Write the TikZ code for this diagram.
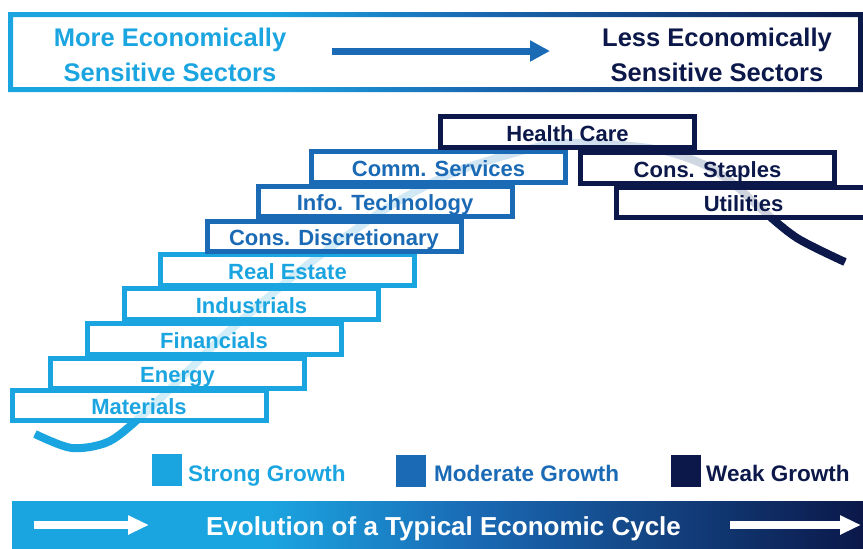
\documentclass[tikz,border=0pt]{standalone}
\usepackage{fontspec}
\setmainfont{Liberation Sans}
\usetikzlibrary{arrows.meta, positioning}

\definecolor{strong}{RGB}{27,165,224}
\definecolor{moderate}{RGB}{26,106,181}
\definecolor{weak}{RGB}{11,24,73}

\pgfdeclarehorizontalshading{cycleshade}{100bp}{color(0bp)=(strong); color(40bp)=(strong); color(52bp)=(moderate); color(75bp)=(weak); color(100bp)=(weak)}

\tikzset{
  sector/.style={draw, line width=5pt, fill=white, fill opacity=0.8, text opacity=1,
    minimum width=254pt, minimum height=30.5pt, inner sep=0pt,
    text height=18pt, text depth=0pt, font=\fontsize{22}{26}\selectfont\bfseries},
  strongbox/.style={sector, draw=strong, text=strong},
  modbox/.style={sector, draw=moderate, text=moderate},
  weakbox/.style={sector, draw=weak, text=weak},
  keysq/.style={minimum width=30pt, minimum height=32pt, inner sep=0pt},
  keytext/.style={anchor=base west, inner sep=0pt, font=\fontsize{22.5}{26}\selectfont\bfseries},
  headtext/.style={align=center, inner sep=0pt, font=\fontsize{25.5}{35}\selectfont\bfseries},
  cyclewave/.style={line width=8pt},
}

\begin{document}
\begin{tikzpicture}[x=1pt, y=-1pt]
  \useasboundingbox (0,0) rectangle (863,549);

  % top banner
  \shade[shading=cycleshade, even odd rule] (8,12) rectangle (863,92) (13,17) rectangle (858,87);
  \node[headtext, text=strong] (more) at (170,55) {More Economically\\Sensitive Sectors};
  \node[headtext, text=weak] (less) at (717,55) {Less Economically\\Sensitive Sectors};
  \coordinate (a1) at (332,51);
  \coordinate (a2) at (550,51);
  \draw[-{Triangle[length=20pt,width=20pt]}, moderate, line width=7pt] (a1) -- (a2);

  % the cycle curve, coloured strip by strip
  \foreach \i in {0,...,83} {
    \pgfmathsetmacro\xa{25+10*\i}
    \pgfmathtruncatemacro\ta{min(100,max(0,(\xa-300)/2.6))}
    \pgfmathtruncatemacro\tc{100-min(100,max(0,(\xa-560)/2.2))}
    \begin{scope}
      \clip (\xa-0.3,0) rectangle (\xa+10.3,549);
      \draw[cyclewave, moderate!\ta!strong!\tc!weak] plot[smooth] coordinates {(35,434) (72,448) (110,441) (148,410) (185,374) (218,341) (257,307) (297,273) (345,237) (395,203) (455,172) (525,150) (565,143) (620,145) (665,151) (705,165) (735,185) (760,208) (797,238) (845,262)};
    \end{scope}
  }

  % sectors
  \node[strongbox] (mat) at (139,405.5) {Materials};
  \node[strongbox] (ene) at (177.5,373.5) {Energy};
  \node[strongbox] (fin) at (214,339) {Financials};
  \node[strongbox] (ind) at (251.5,304) {Industrials};
  \node[strongbox] (rea) at (287.5,270) {Real Estate};
  \node[modbox] (dis) at (334,236.5) {Cons. Discretionary};
  \node[modbox] (tec) at (385,201.5) {Info. Technology};
  \node[modbox] (com) at (438.5,167) {Comm. Services};
  \node[weakbox] (hea) at (567.5,132) {Health Care};
  \node[weakbox] (sta) at (707.5,168) {Cons. Staples};
  \node[weakbox] (uti) at (743.5,202.5) {Utilities};

  % legend
  \node[keysq, fill=strong] (k1) at (167,470) {};
  \node[keytext, text=strong] (t1) at (188,481) {Strong Growth};
  \node[keysq, fill=moderate] (k2) at (410.5,471) {};
  \node[keytext, text=moderate] (t2) at (434,481) {Moderate Growth};
  \node[keysq, fill=weak] (k3) at (686,471) {};
  \node[keytext, text=weak] (t3) at (706,481) {Weak Growth};

  % bottom bar
  \shade[shading=cycleshade] (12,501) rectangle (863,549);
  \node[anchor=base, text=white, inner sep=0pt, font=\fontsize{26}{30}\selectfont\bfseries] (evo) at (443.5,535) {Evolution of a Typical Economic Cycle};
  \coordinate (b1) at (34,525);
  \coordinate (b2) at (149,525);
  \coordinate (b3) at (730,525);
  \coordinate (b4) at (861,525);
  \draw[-{Triangle[length=21pt,width=18pt]}, white, line width=8pt] (b1) -- (b2);
  \draw[-{Triangle[length=21pt,width=18pt]}, white, line width=8pt] (b3) -- (b4);
\end{tikzpicture}
\end{document}
